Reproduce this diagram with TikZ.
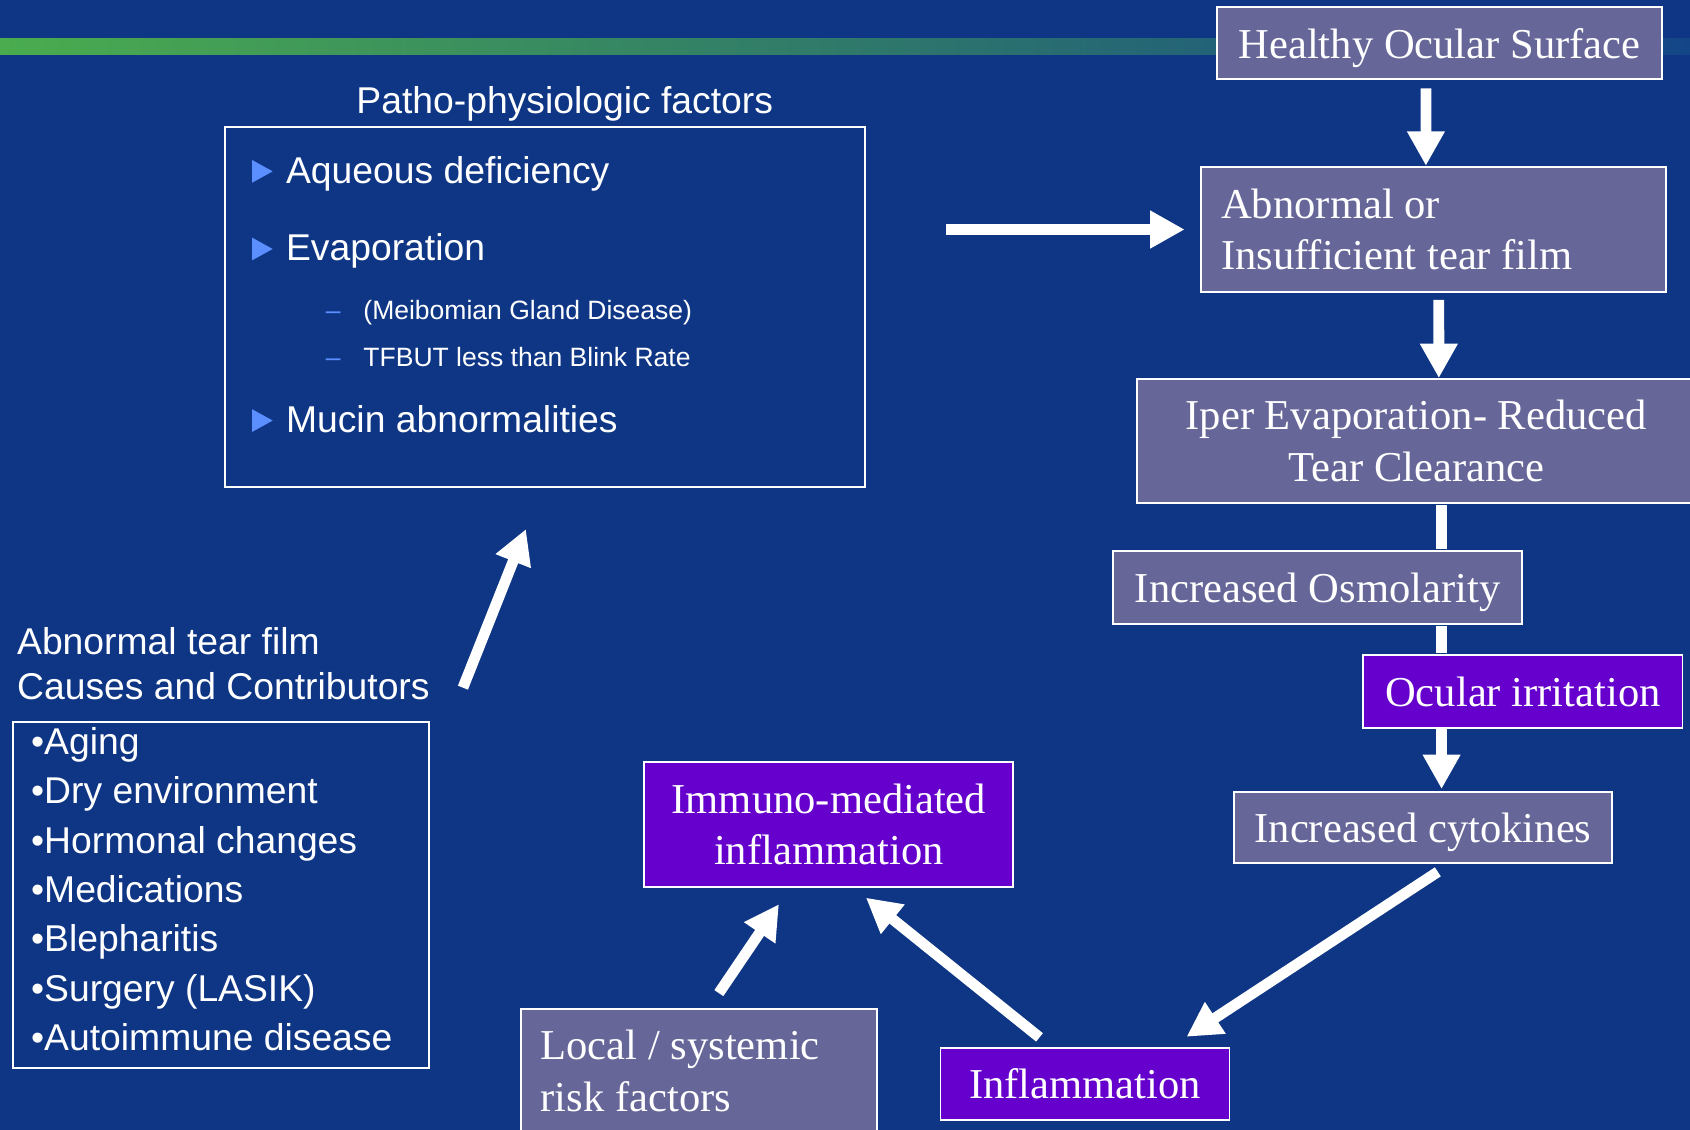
\documentclass[tikz,border=0pt]{standalone}
\usepackage{fontspec}
\setmainfont{Liberation Serif}
\newfontfamily\slidesans{Liberation Sans}
\usetikzlibrary{arrows.meta}
\definecolor{slidebg}{RGB}{14,54,133}
\definecolor{boxgrey}{RGB}{102,102,153}
\definecolor{boxpurple}{RGB}{102,0,204}
\definecolor{tribl}{RGB}{91,142,255}
\definecolor{bargreen}{RGB}{74,172,78}
\definecolor{barblue}{RGB}{20,70,135}

\begin{document}
\begin{tikzpicture}[x=0.5pt, y=-0.5pt, white,
	box/.style={draw=white, line width=0.9pt, fill=boxgrey, inner sep=0pt, text=white, align=center, font=\fontsize{19.75}{24}\selectfont},
	flat/.style={box, text depth=0pt},
	hot/.style={fill=boxpurple},
	frame/.style={draw=white, line width=0.9pt, inner sep=0pt},
	say/.style={text=white, inner sep=0pt, font=\slidesans\fontsize{17.3}{20.6}\selectfont},
	small/.style={say, font=\slidesans\fontsize{12.3}{15}\selectfont},
	arr/.style={draw=white, line width=5pt, -{Triangle[length=16pt, width=16.5pt]}},
	bar/.style={draw=white, line width=5pt, shorten <=0.45pt, shorten >=0.45pt}]

	\useasboundingbox (0,0) rectangle (1568,1048);
	\fill[slidebg] (0,0) rectangle (1568,1048);
	\shade[left color=bargreen, right color=barblue] (0,35.6) rectangle (1568,51);

	\node[flat, minimum width=206.4pt, minimum height=33.4pt] (healthy) at (1335.6,40.2) {Healthy Ocular Surface};
	\node[box, align=flush left, text width=197.3pt, inner xsep=9.2pt, minimum height=58.25pt] (abn) at (1330.35,212.95) {Abnormal or\\Insufficient tear film};
	\node[box, minimum width=259pt, minimum height=57.65pt] (iper) at (1314,409.35) {Iper Evaporation- Reduced\\Tear Clearance};
	\node[flat, minimum width=189.7pt, minimum height=34.05pt] (osm) at (1222.5,545.25) {Increased Osmolarity};
	\node[flat, hot, minimum width=148pt, minimum height=33.75pt] (ocu) at (1413,641.45) {Ocular irritation};
	\node[flat, minimum width=175.7pt, minimum height=33.25pt] (cyt) at (1320.3,767.75) {Increased cytokines};
	\node[flat, hot, minimum width=134.05pt, minimum height=33.6pt] (infl) at (1006.65,1005.6) {Inflammation};
	\node[box, hot, minimum width=171.1pt, minimum height=57.7pt] (imm) at (769,765) {Immuno-mediated\\inflammation};
	\node[box, align=flush left, text width=146.7pt, inner xsep=9.3pt, minimum height=57pt] (local) at (648.35,993.5) {Local / systemic\\risk factors};

	\node[say, anchor=base] (pathotitle) at (524,105.5) {Patho-physiologic factors};
	\node[frame, minimum width=296.75pt, minimum height=166.7pt] (patho) at (505.55,284.8) {};
	\foreach \b/\t [count=\i] in {170/Aqueous deficiency, 242/Evaporation, 401.2/Mucin abnormalities} {
		\fill[tribl] (234,{\b-21.5}) -- (253,{\b-11}) -- (234,{\b-0.5}) -- cycle;
		\node[say, anchor=base west] (factor\i) at (265,\b) {\t};
	}
	\foreach \b/\t [count=\i] in {296/{(Meibomian Gland Disease)}, 340.3/{TFBUT less than Blink Rate}} {
		\node[small, text=tribl, anchor=base west] (dash\i) at (302,\b) {–};
		\node[small, anchor=base west] (sub\i) at (336.8,\b) {\t};
	}

	\node[say, anchor=base west] (cause1) at (15.5,607.7) {Abnormal tear film};
	\node[say, anchor=base west] (cause2) at (15.5,648.9) {Causes and Contributors};
	\node[frame, minimum width=193.25pt, minimum height=160.3pt] (causes) at (205.05,830.3) {};
	\foreach \t [count=\i from 0] in {Aging, Dry environment, Hormonal changes, Medications, Blepharitis, {Surgery (LASIK)}, Autoimmune disease}
		\node[say, anchor=base west] (contrib\i) at (28.5,{700+45.8*\i}) {•\t};

	\draw[arr, shorten <=3.7pt] ([xshift=-6.3pt]healthy.south) -- ([xshift=-3.7pt]abn.north);
	\draw[arr, shorten <=37.35pt, shorten >=7.3pt] (patho.east |- abn.west) -- (abn.west);
	\draw[arr, shorten <=3.1pt] ([xshift=2.3pt]abn.south) -- ([xshift=10.5pt]iper.north);
	\coordinate (spine) at (1337.5,0);
	\draw[bar] (iper.south -| spine) -- (osm.north -| spine);
	\draw[bar] (osm.south -| spine) -- (ocu.north -| spine);
	\draw[arr, shorten >=0.75pt] (ocu.south -| spine) -- (cyt.north -| spine);
	\draw[arr] ([shift={(6.85pt,-3.5pt)}]cyt.south) -- ([shift={(47.1pt,4.6pt)}]infl.north);
	\draw[arr] ([shift={(-21.1pt,4.3pt)}]infl.north) -- ([shift={(17.2pt,-4.65pt)}]imm.south);
	\draw[arr] ([shift={(9.3pt,7.1pt)}]local.north) -- ([shift={(-23.15pt,-7.7pt)}]imm.south);
	\draw[arr] ([shift={(15.25pt,5.45pt)}]cause2.base east) -- ([shift={(-8.8pt,-19.25pt)}]patho.south);

\end{tikzpicture}
\end{document}
